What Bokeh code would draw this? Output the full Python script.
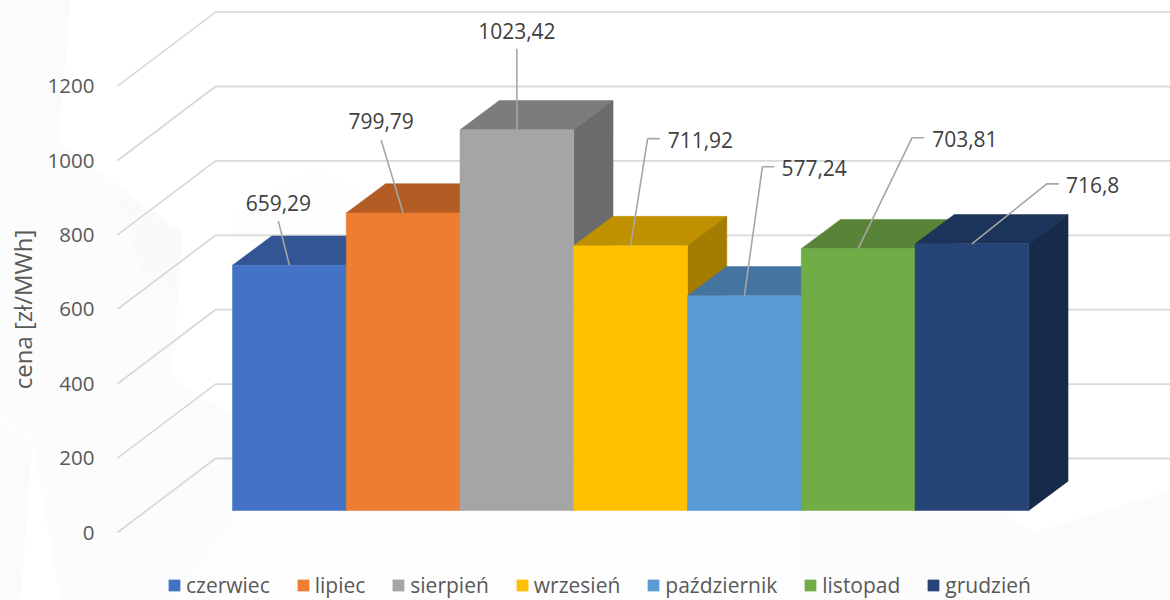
from bokeh.plotting import figure
from bokeh.models import (Range1d, LinearAxis, FixedTicker, Legend, LegendItem)
from bokeh.embed import file_html
from bokeh.resources import INLINE
from bokeh.core.properties import value

# ---- data ----
months = ["czerwiec", "lipiec", "sierpień", "wrzesień", "październik", "listopad", "grudzień"]
prices = [659.29, 799.79, 1023.42, 711.92, 577.24, 703.81, 716.8]
price_labels = ["659,29", "799,79", "1023,42", "711,92", "577,24", "703,81", "716,8"]
y_ticks = [0, 200, 400, 600, 800, 1000, 1200]
axis_title = "cena [zł/MWh]"

# ---- colours ----
front_colors = ["#4472C4", "#ED7D31", "#A5A5A5", "#FFC000", "#5B9BD5", "#70AD47", "#264478"]
top_colors = ["#335593", "#B35D24", "#7C7C7C", "#BF9000", "#4475A0", "#598337", "#1C335A"]
side_colors = ["#2A4478", "#8E4B1E", "#6B6B6B", "#A37C00", "#375D80", "#43682B", "#172A4A"]

# ---- picture geometry (pixels) ----
W_CSS, H_CSS = 1170, 600
PX_LEFT, PX_TOP = 0, 0
BAR_PX = 113.75          # width of one category
UNIT_PX = 0.372          # pixels per zł/MWh
BASE_X, BASE_Y = 232, 510   # front-left foot of the first bar
DEPTH_X, DEPTH_Y = 39.3, 29.3

def px(x):
    return (x - BASE_X) / BAR_PX

def py(y):
    return (BASE_Y - y) / UNIT_PX

p = figure(width=W_CSS, height=H_CSS, output_backend="svg", toolbar_location=None,
           x_range=Range1d(px(PX_LEFT), px(PX_LEFT + W_CSS)),
           y_range=Range1d(py(PX_TOP + H_CSS), py(PX_TOP)),
           x_axis_type=None, y_axis_type=None, min_border=0,
           outline_line_color=None, background_fill_color="#FFFFFF", border_fill_color="#FFFFFF")
p.grid.visible = False

# ---- faint background facets ----
facets = [
    ("#FBFBFB", [(0, 0), (70, 0), (58, 140), (0, 165)]),
    ("#FCFCFC", [(58, 140), (182, 232), (172, 378), (32, 440), (0, 420), (0, 165)]),
    ("#FAFAFA", [(110, 185), (182, 232), (178, 300), (140, 270)]),
    ("#FBFBFB", [(0, 422), (32, 442), (20, 600), (0, 600)]),
    ("#FCFCFC", [(172, 378), (240, 420), (240, 510), (170, 600), (60, 600), (32, 440)]),
    ("#FBFBFB", [(172, 378), (240, 420), (240, 470), (200, 440)]),
    ("#FDFDFD", [(240, 510), (795, 510), (795, 600), (170, 600)]),
    ("#FCFCFC", [(795, 510), (1000, 510), (1033, 532), (1033, 600), (795, 600)]),
    ("#FBFBFB", [(1033, 532), (1170, 490), (1170, 600), (1033, 600)]),
    ("#FDFDFD", [(317, 167), (400, 215), (400, 240), (232, 240), (232, 215)]),
]
for color, pts in facets:
    p.patch([px(a) for a, _ in pts], [py(b) for _, b in pts], fill_color=color, line_color=None)

# ---- gridlines: side wall + back wall ----
FRONT_X, WALL_X = px(117), px(215)
FRONT_DY, WALL_DY = py(532), py(458)
for t in y_ticks:
    p.line([FRONT_X, WALL_X, px(PX_LEFT + W_CSS)],
           [t + FRONT_DY, t + WALL_DY, t + WALL_DY],
           line_color="#D9D9D9", line_width=1.8)

# ---- bars, painted left to right ----
dx, dy = DEPTH_X / BAR_PX, DEPTH_Y / UNIT_PX
items = []
for i, (m, v) in enumerate(zip(months, prices)):
    p.patch([i, i + dx, i + 1 + dx, i + 1], [v, v + dy, v + dy, v],
            fill_color=top_colors[i], line_color=top_colors[i], line_width=0.5)
    p.patch([i + 1, i + 1 + dx, i + 1 + dx, i + 1], [0, dy, v + dy, v],
            fill_color=side_colors[i], line_color=side_colors[i], line_width=0.5)
    front = p.quad(left=[i], right=[i + 1], bottom=[0], top=[v],
                   fill_color=front_colors[i], line_color=front_colors[i], line_width=0.5)
    items.append(LegendItem(label=m, renderers=[front]))

# ---- leader lines and labels: offsets from the bar's top-centre anchor (px) ----
leader_elbow = [(-11, -44), (-22, -73), (0, -81), (17, -107), (18, -129), (54, -111), (75, -60)]
leader_tail = [0, 0, 0, 12, 12, 12, 12]
label_offset = [(-11, -62), (-22, -92), (0, -99), (37, -106), (37, -128), (74, -110), (94, -59)]
label_align = ["center", "center", "center", "left", "left", "left", "left"]
for i, v in enumerate(prices):
    cx = i + 0.5
    ex, ey = leader_elbow[i]
    xs = [cx, cx + ex / BAR_PX, cx + (ex + leader_tail[i]) / BAR_PX]
    ys = [v, v - ey / UNIT_PX, v - ey / UNIT_PX]
    p.line(xs, ys, line_color="#A6A6A6", line_width=1.6)
    lx, ly = label_offset[i]
    p.text([cx + lx / BAR_PX], [v - ly / UNIT_PX], text=[price_labels[i]],
           text_font=value("Open Sans"), text_font_size="21px", text_color="#404040",
           text_align=label_align[i], text_baseline="middle")

# ---- value axis, inside the frame ----
p.extra_y_ranges["axis"] = Range1d(p.y_range.start - FRONT_DY, p.y_range.end - FRONT_DY)
axis = LinearAxis(y_range_name="axis", ticker=FixedTicker(ticks=y_ticks),
                  axis_line_color=None, major_tick_line_color=None, minor_tick_line_color=None,
                  major_label_text_font="Open Sans", major_label_text_font_size="20.5px",
                  major_label_text_color="#595959", major_label_standoff=3,
                  axis_label=axis_title, axis_label_text_font="Open Sans",
                  axis_label_text_font_size="24px", axis_label_text_color="#595959",
                  axis_label_text_font_style="normal", axis_label_standoff=6,
                  bounds=(0, 1200), fixed_location=px(103))
p.add_layout(axis, "left")

# ---- legend ----
legend = Legend(items=items, orientation="horizontal", location=(167, 1),
                glyph_width=14, glyph_height=14, label_standoff=5, spacing=26, padding=0, margin=0,
                background_fill_alpha=0, border_line_color=None,
                label_text_font="Open Sans", label_text_font_size="21px", label_text_color="#595959")
p.add_layout(legend, "center")

open("out.html", "w").write(file_html(p, INLINE))
